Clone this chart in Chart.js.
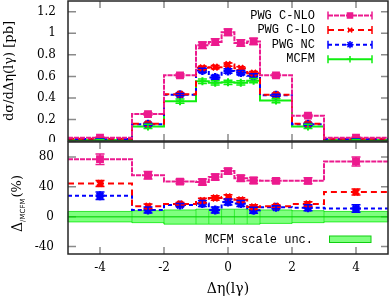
<!DOCTYPE html>
<html>
<head>
<meta charset="utf-8">
<script src="https://cdn.jsdelivr.net/npm/chart.js@4.4.1/dist/chart.umd.min.js"></script>
<style>
  html, body { margin: 0; padding: 0; background: #fff; }
  #wrap { position: relative; width: 390px; height: 298px; overflow: hidden; }
  canvas { position: absolute; left: 0; }
  #upper { top: 0; }
  #lower { top: 140px; }
</style>
</head>
<body>
<div id="wrap">
  <canvas id="upper" width="390" height="142"></canvas>
  <canvas id="lower" width="390" height="158"></canvas>
</div>
<script>
// bins in delta eta(l gamma)
const edges = [-5, -3, -2, -1, -0.6, -0.2, 0.2, 0.6, 1, 2, 3, 5];
const centres = [-4, -2.5, -1.5, -0.8, -0.4, 0, 0.4, 0.8, 1.5, 2.5, 4];
const xTicks = [-4, -2, 0, 2, 4];
const upperTicks = [0, 0.2, 0.4, 0.6, 0.8, 1, 1.2];
const lowerTicks = [-40, 0, 40, 80];
const seriesNames = ['PWG C-NLO', 'PWG C-LO', 'PWG NC', 'MCFM'];
const bandName = 'MCFM scale unc.';

// upper panel: dsigma/ddeta [pb]
const cnlo = [0.03, 0.25, 0.61, 0.89, 0.92, 1.01, 0.91, 0.925, 0.61, 0.235, 0.03];
const cnloErr = [0.006, 0.012, 0.015, 0.03, 0.03, 0.03, 0.03, 0.03, 0.015, 0.012, 0.006];
const clo = [0.02, 0.16, 0.435, 0.68, 0.685, 0.71, 0.675, 0.63, 0.43, 0.16, 0.02];
const cloErr = [0.004, 0.008, 0.01, 0.015, 0.015, 0.015, 0.015, 0.015, 0.01, 0.008, 0.004];
const nc = [0.018, 0.155, 0.43, 0.655, 0.59, 0.65, 0.635, 0.605, 0.425, 0.155, 0.018];
const ncErr = [0.004, 0.008, 0.01, 0.02, 0.02, 0.02, 0.02, 0.02, 0.01, 0.008, 0.004];
const mcfm = [0.01, 0.135, 0.37, 0.555, 0.54, 0.545, 0.54, 0.56, 0.375, 0.135, 0.01];
const mcfmErr = [0.005, 0.02, 0.02, 0.02, 0.02, 0.02, 0.02, 0.02, 0.02, 0.02, 0.005];

// lower panel: deviation from MCFM [%]
const cnloDev = [77, 55.5, 47, 46.5, 53, 61, 51.5, 48.5, 48, 48, 74];
const cnloDevErr = [7, 5, 3, 4, 4, 4, 4, 4, 3, 4, 6];
const cloDev = [44.5, 14, 17, 21.5, 25, 26.5, 22.5, 13, 14, 17, 33];
const cloDevErr = [4, 3, 2, 3, 3, 3, 3, 3, 2, 3, 4];
const ncDev = [28, 9, 15.5, 17.5, 9, 19.5, 17.5, 8.5, 12.5, 12, 11];
const ncDevErr = [5, 4, 2, 4, 4, 4, 4, 4, 2, 4, 5];
const mcfmDev = [0, 0, 0, 0, 0, 0, 0, 0, 0, 0, 0];
const scaleHi = [7, 8, 9, 10, 10, 10, 10, 10, 9, 8, 7];
const scaleLo = [-7, -8, -10, -10, -10, -10, -10, -10, -9, -8, -7];

const PINK = '#ec1a8e', RED = '#ff0000', BLUE = '#0000ff', GREEN = '#10ee10';
const styles = [
  { color: PINK, dash: [5, 1], point: 'rect', r: 4.5, bw: 1.5 },
  { color: RED, dash: [6, 4], point: 'crossRot', r: 4, bw: 3 },
  { color: BLUE, dash: [4, 3], point: 'star', r: 4.5, bw: 2.5 },
  { color: GREEN, dash: [], point: 'cross', r: 4, bw: 2 }
];

Chart.defaults.font.family = '"DejaVu Serif", serif';
Chart.defaults.font.size = 12;
Chart.defaults.color = '#000';

const steps = vals => edges.map((x, i) => ({ x, y: vals[Math.min(i, vals.length - 1)] }));
const points = vals => centres.map((x, i) => ({ x, y: vals[i] }));

function histo(vals, s) {
  return { data: steps(vals), stepped: true, borderColor: s.color, borderWidth: 2,
    borderDash: s.dash, pointRadius: 0, fill: false };
}
function markers(vals, errs, s) {
  return { data: points(vals), errs, showLine: false, pointStyle: s.point,
    pointRadius: s.r, pointBorderWidth: s.bw, borderColor: s.color, backgroundColor: s.color,
    pointBackgroundColor: s.color, pointBorderColor: s.color };
}
// fixed axis box, no label overhang padding
function fixWidth(w) {
  return s => { s.width = w; s.paddingTop = 0; s.paddingBottom = 0; };
}

const errorBars = {
  id: 'errorBars',
  afterDatasetsDraw(chart) {
    const { ctx } = chart;
    const ys = chart.scales.y;
    chart.data.datasets.forEach((ds, i) => {
      if (!ds.errs) return;
      const meta = chart.getDatasetMeta(i);
      ctx.save();
      ctx.strokeStyle = ds.borderColor;
      ctx.lineWidth = 1.5;
      ctx.beginPath();
      meta.data.forEach((pt, j) => {
        const v = ds.data[j].y, e = ds.errs[j];
        const y0 = ys.getPixelForValue(v - e), y1 = ys.getPixelForValue(v + e);
        ctx.moveTo(pt.x, y0); ctx.lineTo(pt.x, y1);
        ctx.moveTo(pt.x - 4.5, y0); ctx.lineTo(pt.x + 4.5, y0);
        ctx.moveTo(pt.x - 4.5, y1); ctx.lineTo(pt.x + 4.5, y1);
      });
      ctx.stroke();
      ctx.restore();
    });
  }
};

// gnuplot-like frame with inward ticks on all sides
const frame = {
  id: 'frame',
  beforeDatasetsDraw(chart, args, opts) {
    const { ctx, chartArea: a } = chart;
    const xs = chart.scales.x, ys = chart.scales.y;
    ctx.save();
    ctx.strokeStyle = '#8a8a8a';
    ctx.lineWidth = 1.5;
    ctx.beginPath();
    xTicks.forEach(v => {
      const px = xs.getPixelForValue(v);
      ctx.moveTo(px, a.top); ctx.lineTo(px, a.top + 7);
      ctx.moveTo(px, a.bottom); ctx.lineTo(px, a.bottom - 7);
    });
    opts.yTicks.forEach(v => {
      const py = ys.getPixelForValue(v);
      ctx.moveTo(a.left, py); ctx.lineTo(a.left + 8, py);
      ctx.moveTo(a.right, py); ctx.lineTo(a.right - 7, py);
    });
    ctx.stroke();
    ctx.restore();
  },
  afterDraw(chart) {
    const { ctx, chartArea: a } = chart;
    ctx.save();
    ctx.strokeStyle = '#262626';
    ctx.lineWidth = 1.5;
    ctx.strokeRect(a.left, a.top, a.right - a.left, a.bottom - a.top);
    ctx.restore();
  }
};

const upperLegend = {
  id: 'upperLegend',
  afterDraw(chart) {
    const { ctx } = chart;
    const x0 = 328, x1 = 372;
    ctx.save();
    seriesNames.forEach((name, i) => {
      const s = styles[i];
      const y = 15.5 + i * 14.6;
      ctx.font = '12px "Liberation Mono", monospace';
      ctx.textAlign = 'right';
      ctx.textBaseline = 'middle';
      ctx.fillStyle = '#000';
      ctx.fillText(name, 315, y);
      ctx.strokeStyle = s.color;
      ctx.fillStyle = s.color;
      ctx.lineWidth = 2;
      ctx.setLineDash(s.dash);
      ctx.beginPath(); ctx.moveTo(x0, y); ctx.lineTo(x1, y); ctx.stroke();
      ctx.setLineDash([]);
      ctx.lineWidth = 1.5;
      ctx.beginPath();
      ctx.moveTo(x0, y - 4); ctx.lineTo(x0, y + 4);
      ctx.moveTo(x1, y - 4); ctx.lineTo(x1, y + 4);
      ctx.stroke();
      Chart.helpers.drawPoint(ctx, { pointStyle: s.point, radius: s.r * 0.8, borderWidth: s.bw * 0.8, rotation: 0 }, (x0 + x1) / 2, y);
    });
    ctx.restore();
  }
};

const lowerDecor = {
  id: 'lowerDecor',
  beforeDatasetsDraw(chart) {
    // outlines of the scale band boxes
    const { ctx } = chart;
    const xs = chart.scales.x, ys = chart.scales.y;
    ctx.save();
    ctx.strokeStyle = 'rgba(0,200,0,0.6)';
    ctx.lineWidth = 1;
    ctx.beginPath();
    edges.forEach((e, i) => {
      const k = Math.min(i, scaleHi.length - 1);
      const hi = Math.max(scaleHi[k], scaleHi[Math.max(i - 1, 0)]);
      const lo = Math.min(scaleLo[k], scaleLo[Math.max(i - 1, 0)]);
      const px = xs.getPixelForValue(e);
      ctx.moveTo(px, ys.getPixelForValue(hi)); ctx.lineTo(px, ys.getPixelForValue(lo));
    });
    ctx.stroke();
    ctx.restore();
  },
  afterDraw(chart) {
    const { ctx } = chart;
    ctx.save();
    // legend for the band
    ctx.font = '12px "Liberation Mono", monospace';
    ctx.textAlign = 'right';
    ctx.textBaseline = 'middle';
    ctx.fillStyle = '#000';
    ctx.fillText(bandName, 313, 99.5);
    ctx.fillStyle = 'rgba(0,255,0,0.5)';
    ctx.strokeStyle = '#10d010';
    ctx.lineWidth = 1;
    ctx.fillRect(329, 96, 42, 6.5);
    ctx.strokeRect(329.5, 96, 41.5, 6.5);
    // y title with subscript
    ctx.translate(18, 92);
    ctx.rotate(-Math.PI / 2);
    ctx.textAlign = 'left';
    ctx.fillStyle = '#000';
    ctx.font = '14px "DejaVu Serif", serif';
    ctx.fillText('Δ', 0, 0);
    let w = ctx.measureText('Δ').width;
    ctx.font = '7px "DejaVu Sans", sans-serif';
    ctx.fillText('/MCFM', w, 5);
    w += ctx.measureText('/MCFM').width + 1;
    ctx.font = '13px "DejaVu Serif", serif';
    ctx.fillText('(%)', w, 0);
    ctx.restore();
  }
};

const common = {
  animation: false,
  responsive: false,
  events: [],
  plugins: { legend: { display: false }, tooltip: { enabled: false } }
};

new Chart(document.getElementById('upper'), {
  type: 'line',
  data: {
    datasets: [
      markers(cnlo, cnloErr, styles[0]),
      histo(cnlo, styles[0]),
      markers(clo, cloErr, styles[1]),
      histo(clo, styles[1]),
      markers(nc, ncErr, styles[2]),
      histo(nc, styles[2]),
      markers(mcfm, mcfmErr, styles[3]),
      histo(mcfm, styles[3])
    ]
  },
  options: {
    ...common,
    layout: { autoPadding: false, padding: { top: 1, right: 2, bottom: 1, left: 0 } },
    plugins: { ...common.plugins, frame: { yTicks: upperTicks } },
    scales: {
      x: { type: 'linear', min: -5, max: 5, display: false },
      y: {
        min: 0, max: 1.3,
        afterFit: fixWidth(68),
        afterBuildTicks: s => { s.ticks = upperTicks.map(v => ({ value: v })); },
        grid: { display: false, drawTicks: false },
        border: { display: false },
        ticks: { padding: 12, callback: v => String(v) },
        title: { display: true, text: 'dσ/dΔη(lγ) [pb]', font: { size: 13 }, padding: { top: 2, bottom: 0 } }
      }
    }
  },
  plugins: [frame, errorBars, upperLegend]
});

new Chart(document.getElementById('lower'), {
  type: 'line',
  data: {
    datasets: [
      markers(cnloDev, cnloDevErr, styles[0]),
      histo(cnloDev, styles[0]),
      markers(cloDev, cloDevErr, styles[1]),
      histo(cloDev, styles[1]),
      markers(ncDev, ncDevErr, styles[2]),
      histo(ncDev, styles[2]),
      { data: steps(mcfmDev), stepped: true, borderColor: 'rgba(0,210,0,0.7)', borderWidth: 1.5, pointRadius: 0, fill: false },
      { data: steps(scaleHi), stepped: true, borderColor: 'rgba(0,220,0,0.75)', borderWidth: 1, pointRadius: 0,
        fill: '+1', backgroundColor: 'rgba(0,255,0,0.5)' },
      { data: steps(scaleLo), stepped: true, borderColor: 'rgba(0,220,0,0.75)', borderWidth: 1, pointRadius: 0, fill: false }
    ]
  },
  options: {
    ...common,
    layout: { autoPadding: false, padding: { top: 2, right: 2, bottom: 0, left: 0 } },
    plugins: { ...common.plugins, frame: { yTicks: lowerTicks } },
    scales: {
      x: {
        type: 'linear', min: -5, max: 5,
        afterFit: s => { s.height = 44; s.paddingLeft = 0; s.paddingRight = 0; },
        afterBuildTicks: s => { s.ticks = xTicks.map(v => ({ value: v })); },
        grid: { display: false, drawTicks: false },
        border: { display: false },
        ticks: { padding: 7, callback: v => String(v) },
        title: { display: true, text: 'Δη(lγ)', font: { size: 14 }, padding: { top: 0, bottom: 0 } }
      },
      y: {
        min: -50, max: 100,
        afterFit: fixWidth(68),
        afterBuildTicks: s => { s.ticks = lowerTicks.map(v => ({ value: v })); },
        grid: { display: false, drawTicks: false },
        border: { display: false },
        ticks: { padding: 14, callback: v => String(v) }
      }
    }
  },
  plugins: [frame, errorBars, lowerDecor]
});
</script>
</body>
</html>
